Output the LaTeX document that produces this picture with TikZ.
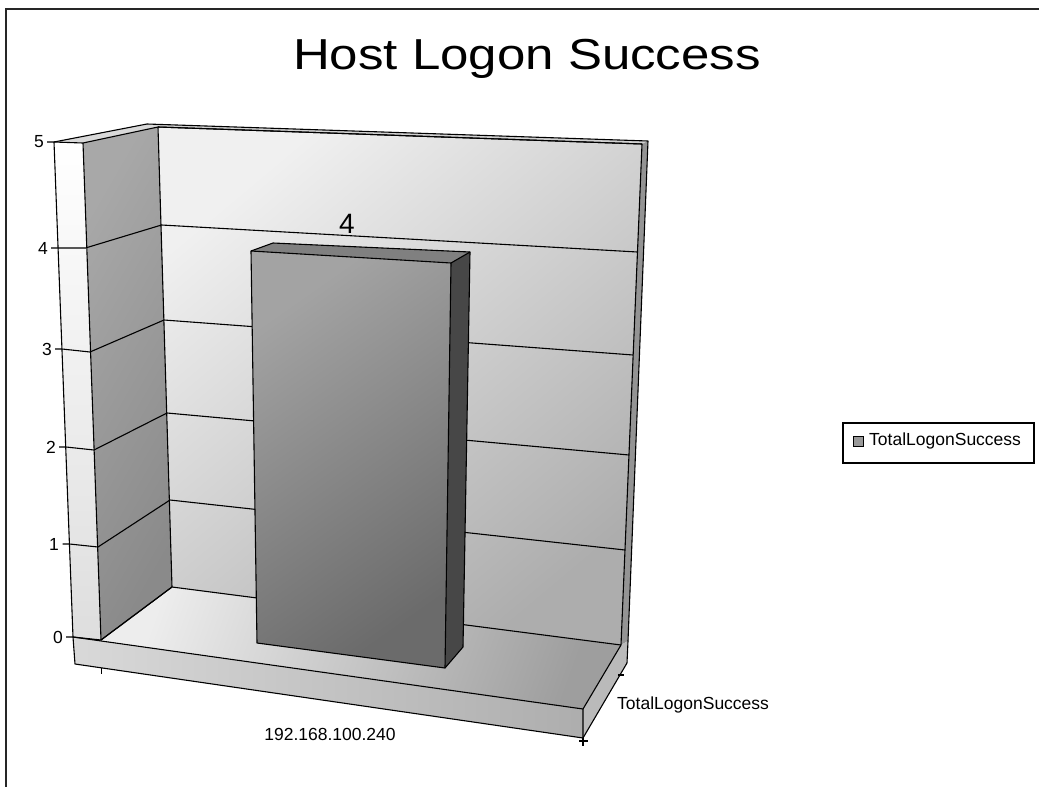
\documentclass[tikz,border=0pt]{standalone}
\usepackage{fontspec}
\setmainfont{Liberation Sans}
\usetikzlibrary{calc}
\begin{document}
\begin{tikzpicture}[x=1pt,y=-1pt,
  edge/.style={draw=black,line width=1.1pt,line join=round},
  grid/.style={draw=black,line width=1.1pt},
  axlabel/.style={font=\fontsize{17.5}{20}\selectfont,inner sep=0pt},
  ticklabel/.style={font=\fontsize{17.5}{20}\selectfont,inner sep=0pt,anchor=east}]
\useasboundingbox (0,0) rectangle (1039,787);
\fill[white] (0,0) rectangle (1039,787);
\draw[line width=1.6pt,draw=black!85] (6,787) -- (6,9) -- (1039,9);

% ---------- coordinates ----------
% back wall
\coordinate (bwTL) at (158,127);
\coordinate (bwTR) at (642,144);
\coordinate (bwBR) at (621,645);
\coordinate (bwBL) at (172,587);
\coordinate (bwTLo) at (147,124);
\coordinate (bwTRo) at (648,141);
\coordinate (bwBRo) at (628,641);
% left wall
\coordinate (lwTFo) at (54,142);
\coordinate (lwTFi) at (83,143);
\coordinate (lwBFo) at (73,637);
\coordinate (lwBFi) at (101,640);
% floor
\coordinate (flFR) at (583,709);
\coordinate (flFRb) at (583,738);
\coordinate (flFLb) at (75,664);
\coordinate (flRb) at (627,663);
% bar
\coordinate (barTL) at (251,251);
\coordinate (barTR) at (451,263);
\coordinate (barBR) at (445,668);
\coordinate (barBL) at (257,643);
\coordinate (barTBL) at (273,243);
\coordinate (barTBR) at (470,252);
\coordinate (barBBR) at (463,647);

% ---------- back wall ----------
\shade[top color=white!94!black,bottom color=black!32,shading angle=40]
  (bwTL) -- (bwTR) -- (bwBR) -- (bwBL) -- cycle;
\fill[black!18] (bwTLo) -- (bwTRo) -- (bwTR) -- (bwTL) -- cycle;
\fill[black!42] (bwTR) -- (bwTRo) -- (bwBRo) -- (bwBR) -- cycle;

% ---------- left wall ----------
\shade[top color=black!34,bottom color=black!46,shading angle=60]
  (lwTFi) -- (bwTL) -- (bwBL) -- (lwBFi) -- cycle;
\fill[black!15] (lwTFo) -- (bwTLo) -- (bwTL) -- (lwTFi) -- cycle;
\shade[top color=white,bottom color=black!13]
  (lwTFo) -- (lwTFi) -- (lwBFi) -- (lwBFo) -- cycle;

% ---------- floor ----------
\shade[top color=black!7,bottom color=black!38,shading angle=70]
  (lwBFi) -- (bwBL) -- (bwBR) -- (flFR) -- cycle;
\shade[left color=black!15,right color=black!32]
  (lwBFo) -- (flFR) -- (flFRb) -- (flFLb) -- cycle;
\fill[black!27] (flFR) -- (bwBR) -- (bwBRo) -- (flRb) -- (flFRb) -- cycle;

% ---------- gridlines ----------
\foreach \pa/\pb/\pc/\pd in {
  {54,142}/{83,143}/{158,127}/{642,144},
  {58,248}/{85.5,248}/{161.5,225}/{637.4,252},
  {62,349}/{90,352}/{164,320}/{633.1,355},
  {66,447}/{94,450}/{167,413}/{629,455},
  {69.5,544}/{98,547}/{170,500}/{625,550},
  {73,637}/{101,640}/{172,587}/{621,645}}{
  \draw[grid] ($(\pa)+(-7,0)$) -- (\pa) -- (\pb) -- (\pc) -- (\pd);
}

% ---------- edges ----------
\draw[edge] (bwTLo) -- (bwTRo) -- (bwBRo);
\draw[edge] (bwTL) -- (bwTR) -- (bwBR);
\draw[edge] (lwTFo) -- (bwTLo);
\draw[edge] (lwTFo) -- (lwBFo) -- (flFLb) -- (flFRb) -- (flFR) -- (lwBFo);
\draw[edge] (lwTFi) -- (lwBFi);
\draw[edge] (bwTL) -- (bwBL) -- (lwBFi);
\draw[edge] (flFR) -- (bwBR);
\draw[edge] (flFRb) -- (flRb) -- (bwBRo);
% axis ticks
\coordinate (tkA) at (101.5,668);
\coordinate (tkB) at (618,675);
\draw[grid] (tkA) -- ++(0,6);
\draw[grid] (flFRb) -- ++(0,8);
\draw[grid] ($(flFRb)+(-4,3)$) -- ++(9,0);
\draw[grid] (tkB) -- ++(6,0);

% ---------- bar ----------
\shade[top color=black!36,bottom color=black!58,shading angle=35]
  (barTL) -- (barTR) -- (barBR) -- (barBL) -- cycle;
\fill[black!72] (barTR) -- (barTBR) -- (barBBR) -- (barBR) -- cycle;
\fill[black!50] (barTL) -- (barTBL) -- (barTBR) -- (barTR) -- cycle;
\draw[edge] (barTL) -- (barTBL) -- (barTBR) -- (barBBR) -- (barBR) -- (barBL) -- cycle;
\draw[edge] (barTL) -- (barTR) -- (barBR);
\draw[edge] (barTR) -- (barTBR);

% ---------- texts ----------
\node[font=\fontsize{51}{60}\selectfont,anchor=base,inner sep=0pt] (title) at (527,69) {\scalebox{1}[0.85]{Host Logon Success}};
\node[font=\fontsize{28}{32}\selectfont,inner sep=0pt] (val) at (347,224) {4};
\node[ticklabel] (t5) at (44,142) {5};
\node[ticklabel] (t4) at (48,248) {4};
\node[ticklabel] (t3) at (52,349) {3};
\node[ticklabel] (t2) at (56,447) {2};
\node[ticklabel] (t1) at (59,544) {1};
\node[ticklabel] (t0) at (63,637) {0};
\node[axlabel] (cat) at (330,734) {192.168.100.240};
\node[axlabel,anchor=west] (ser) at (617,705) {TotalLogonSuccess};

% ---------- legend ----------
\draw[line width=1.1pt] (843,423) rectangle (1034,463);
\draw[line width=0.9pt,fill=black!40] (853,436) rectangle (863,446);
\node[axlabel,anchor=west] (leg) at (869,441) {TotalLogonSuccess};
\end{tikzpicture}
\end{document}
